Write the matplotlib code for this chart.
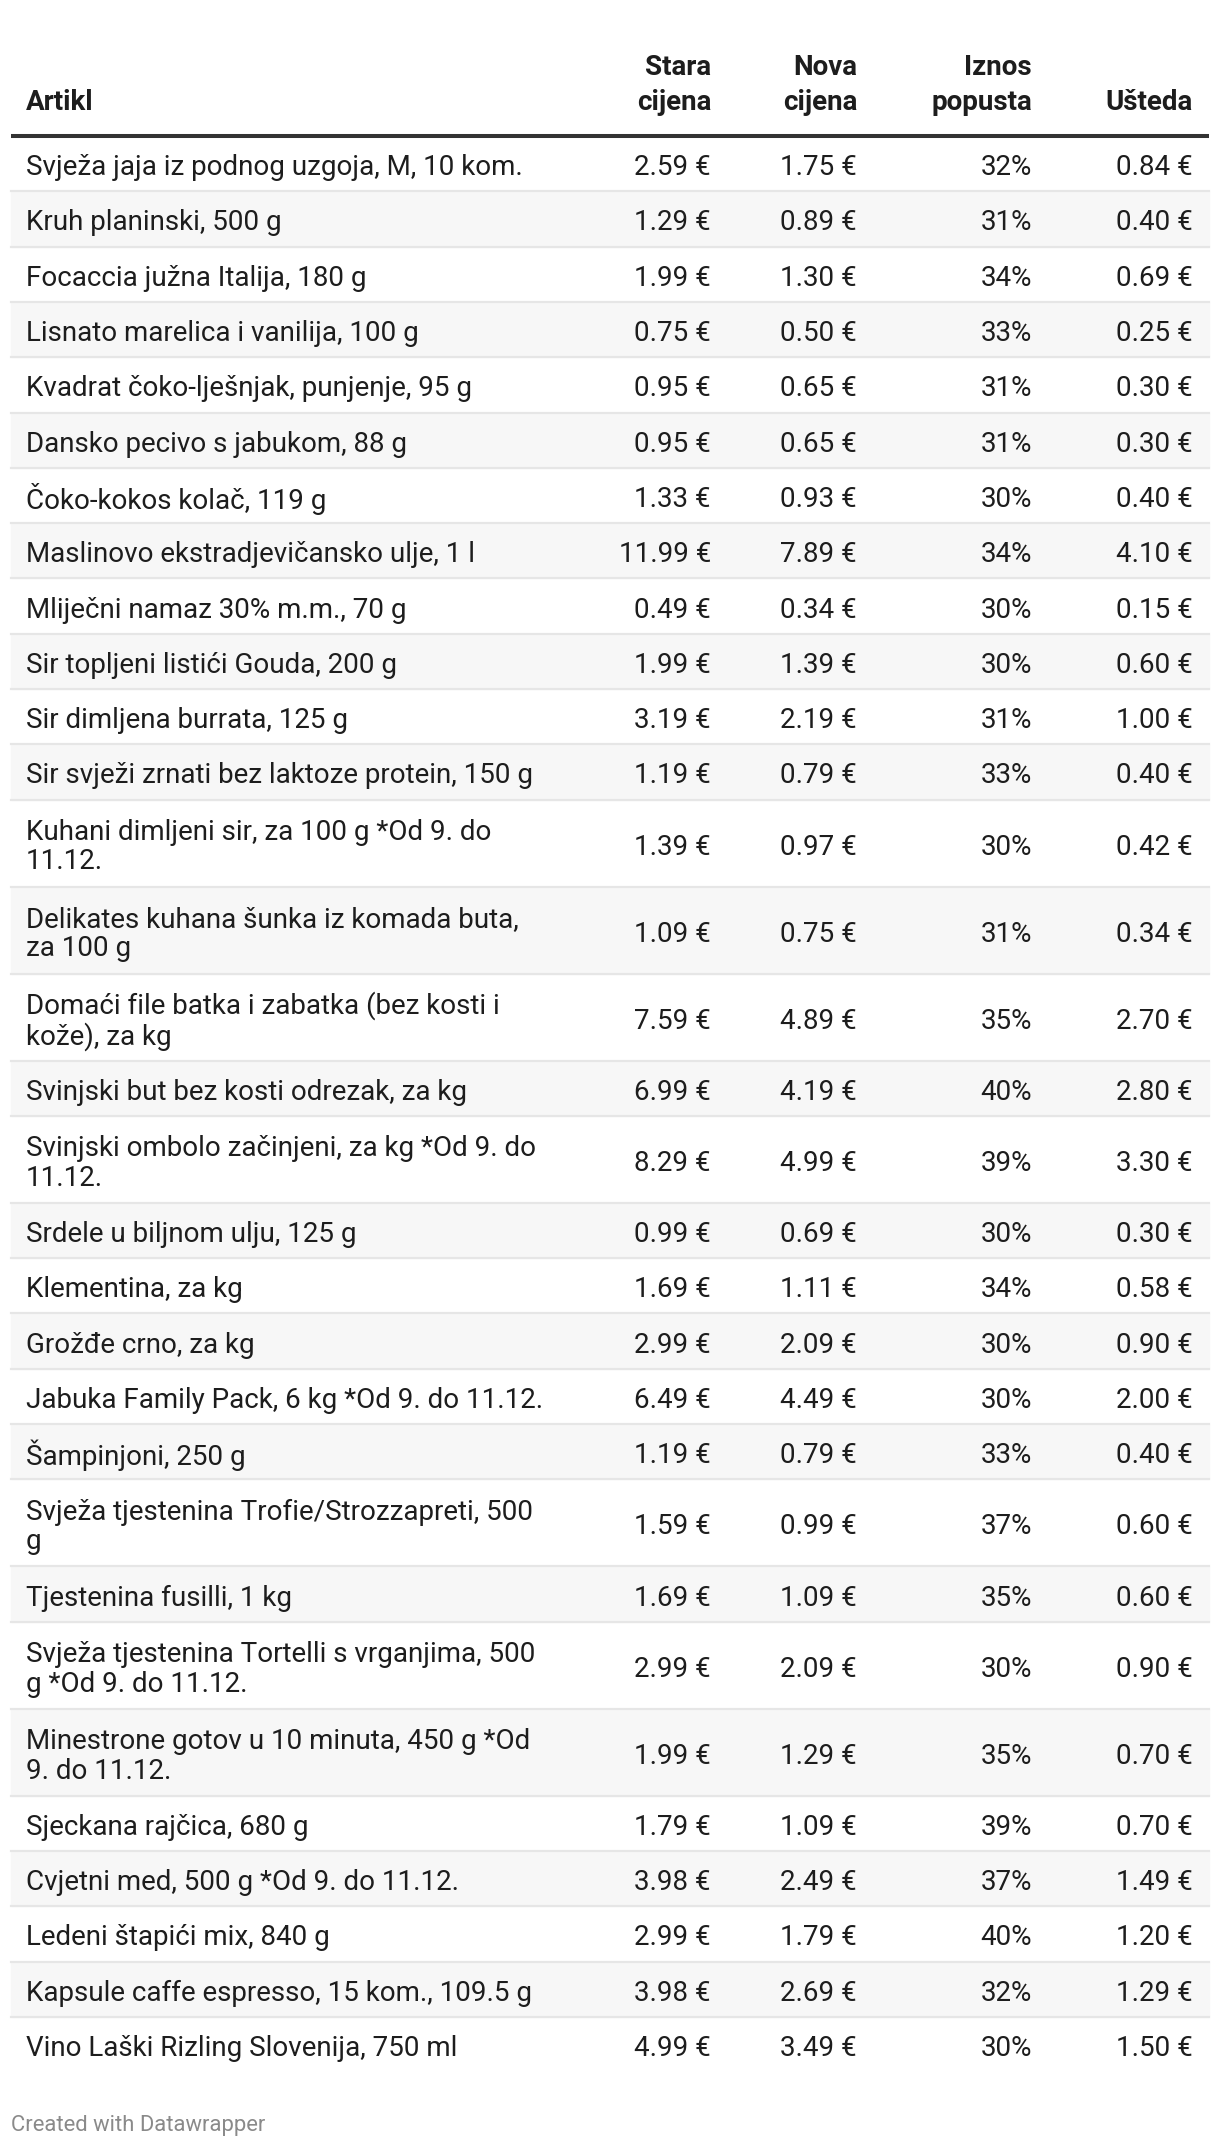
import matplotlib.pyplot as plt
from matplotlib.patches import Rectangle

# table data
artikli = [
    "Svježa jaja iz podnog uzgoja, M, 10 kom.",
    "Kruh planinski, 500 g",
    "Focaccia južna Italija, 180 g",
    "Lisnato marelica i vanilija, 100 g",
    "Kvadrat čoko-lješnjak, punjenje, 95 g",
    "Dansko pecivo s jabukom, 88 g",
    "Čoko-kokos kolač, 119 g",
    "Maslinovo ekstradjevičansko ulje, 1 l",
    "Mliječni namaz 30% m.m., 70 g",
    "Sir topljeni listići Gouda, 200 g",
    "Sir dimljena burrata, 125 g",
    "Sir svježi zrnati bez laktoze protein, 150 g",
    "Kuhani dimljeni sir, za 100 g *Od 9. do\n11.12.",
    "Delikates kuhana šunka iz komada buta,\nza 100 g",
    "Domaći file batka i zabatka (bez kosti i\nkože), za kg",
    "Svinjski but bez kosti odrezak, za kg",
    "Svinjski ombolo začinjeni, za kg *Od 9. do\n11.12.",
    "Srdele u biljnom ulju, 125 g",
    "Klementina, za kg",
    "Grožđe crno, za kg",
    "Jabuka Family Pack, 6 kg *Od 9. do 11.12.",
    "Šampinjoni, 250 g",
    "Svježa tjestenina Trofie/Strozzapreti, 500\ng",
    "Tjestenina fusilli, 1 kg",
    "Svježa tjestenina Tortelli s vrganjima, 500\ng *Od 9. do 11.12.",
    "Minestrone gotov u 10 minuta, 450 g *Od\n9. do 11.12.",
    "Sjeckana rajčica, 680 g",
    "Cvjetni med, 500 g *Od 9. do 11.12.",
    "Ledeni štapići mix, 840 g",
    "Kapsule caffe espresso, 15 kom., 109.5 g",
    "Vino Laški Rizling Slovenija, 750 ml",
]
stara = [2.59, 1.29, 1.99, 0.75, 0.95, 0.95, 1.33, 11.99, 0.49, 1.99, 3.19, 1.19,
         1.39, 1.09, 7.59, 6.99, 8.29, 0.99, 1.69, 2.99, 6.49, 1.19, 1.59, 1.69,
         2.99, 1.99, 1.79, 3.98, 2.99, 3.98, 4.99]
nova = [1.75, 0.89, 1.30, 0.50, 0.65, 0.65, 0.93, 7.89, 0.34, 1.39, 2.19, 0.79,
        0.97, 0.75, 4.89, 4.19, 4.99, 0.69, 1.11, 2.09, 4.49, 0.79, 0.99, 1.09,
        2.09, 1.29, 1.09, 2.49, 1.79, 2.69, 3.49]
popust = [32, 31, 34, 33, 31, 31, 30, 34, 30, 30, 31, 33, 30, 31, 35, 40, 39, 30,
          34, 30, 30, 33, 37, 35, 30, 35, 39, 37, 40, 32, 30]
usteda = [0.84, 0.40, 0.69, 0.25, 0.30, 0.30, 0.40, 4.10, 0.15, 0.60, 1.00, 0.40,
          0.42, 0.34, 2.70, 2.80, 3.30, 0.30, 0.58, 0.90, 2.00, 0.40, 0.60, 0.60,
          0.90, 0.70, 0.70, 1.49, 1.20, 1.29, 1.50]
zaglavlje = [("Artikl", ""), ("Stara", "cijena"), ("Nova", "cijena"),
             ("Iznos", "popusta"), ("Ušteda", "")]

plt.rcParams['font.family'] = ['Roboto', 'DejaVu Sans']

W, H = 1220, 2148
fig = plt.figure(figsize=(W / 100, H / 100), dpi=100)
ax = fig.add_axes([0, 0, 1, 1])
ax.set_xlim(0, W)
ax.set_ylim(H, 0)
ax.axis('off')

left, right = 11, 1209
x_name = 26
x_cols = [711, 857, 1032, 1193]
fs = 20
txt_col = "#1d1d1d"

# header, two lines, bottom line on the same baseline
y1, y2 = 75, 110
for i, (l1, l2) in enumerate(zaglavlje):
    x = x_name if i == 0 else x_cols[i - 1]
    ha = 'left' if i == 0 else 'right'
    if l2:
        ax.text(x, y1, l1, ha=ha, va='baseline', fontsize=fs,
                fontweight='bold', color=txt_col)
        ax.text(x, y2, l2, ha=ha, va='baseline', fontsize=fs,
                fontweight='bold', color=txt_col)
    else:
        ax.text(x, y2, l1, ha=ha, va='baseline', fontsize=fs,
                fontweight='bold', color=txt_col)

y = 136.0
ax.plot([left, right], [y, y], color="#333333", lw=2.9, solid_capstyle='butt', zorder=3)

# rows
for i, name in enumerate(artikli):
    h = 87.0 if "\n" in name else 55.3
    if i % 2 == 1:
        ax.add_patch(Rectangle((left, y), right - left, h, color="#f7f7f7", zorder=0))
    if i < len(artikli) - 1:
        ax.plot([left, right], [y + h, y + h], color="#e6e6e6", lw=1.6, zorder=1)
    yc = y + h / 2 + 4
    ax.text(x_name, yc, name, ha='left', va='center', fontsize=fs,
            color=txt_col, linespacing=1.13)
    vals = ["%.2f €" % stara[i], "%.2f €" % nova[i], "%d%%" % popust[i],
            "%.2f €" % usteda[i]]
    for x, v in zip(x_cols, vals):
        ax.text(x, yc, v, ha='right', va='center', fontsize=fs, color=txt_col)
    y += h

ax.text(11, 2126, "Created with Datawrapper", ha='left', va='center',
        fontsize=15.8, color="#8a8a8a")

fig.savefig("out.png", dpi=100, facecolor="white")
